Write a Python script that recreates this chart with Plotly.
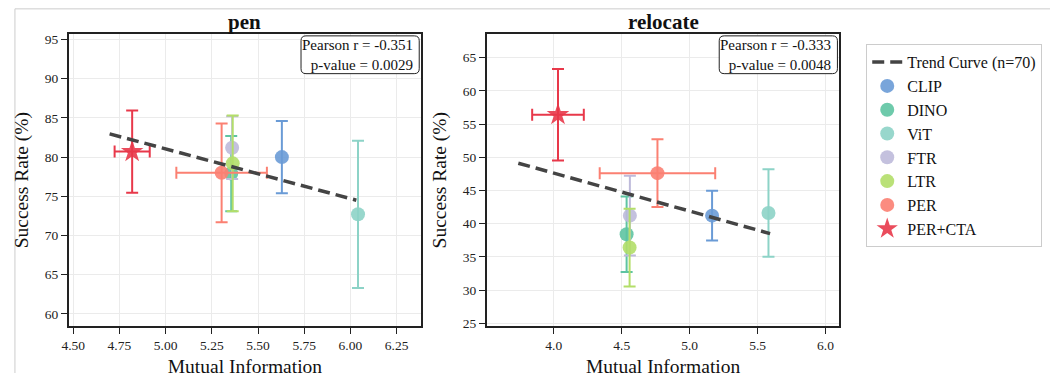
import plotly.graph_objects as go

W, H = 1050, 378
FONT = "Liberation Serif"

methods = ["CLIP", "DINO", "ViT", "FTR", "LTR", "PER", "PER+CTA"]
colors = ["#6a9bd6", "#5ec4a2", "#8dd3c7", "#bebada", "#b3de69", "#fb8072", "#e8384a"]
symbols = ["circle", "circle", "circle", "circle", "circle", "circle", "star"]

# pen
pen_x = [5.629, 5.355, 6.041, 5.360, 5.363, 5.303, 4.819]
pen_y = [80.0, 77.9, 72.7, 81.2, 79.2, 78.0, 80.7]
pen_yerr = [4.6, 4.8, 9.4, 4.0, 6.1, 6.3, 5.25]
pen_xerr = [0, 0, 0, 0, 0, 0.245, 0.095]
pen_trend_x = [4.697, 6.032]
pen_trend_y = [82.97, 74.5]

# relocate
rel_x = [5.165, 4.536, 5.580, 4.560, 4.558, 4.763, 4.031]
rel_y = [41.2, 38.4, 41.6, 41.2, 36.4, 47.6, 56.4]
rel_yerr = [3.75, 5.7, 6.6, 6.0, 5.85, 5.1, 6.9]
rel_xerr = [0, 0, 0, 0, 0, 0.425, 0.19]
rel_trend_x = [3.739, 5.592]
rel_trend_y = [49.1, 38.5]

pen_stats = ["Pearson r = -0.351", "p-value = 0.0029"]
rel_stats = ["Pearson r = -0.333", "p-value = 0.0048"]
titles = ["pen", "relocate"]

pen_xticks = [4.50, 4.75, 5.00, 5.25, 5.50, 5.75, 6.00, 6.25]
pen_yticks = [60, 65, 70, 75, 80, 85, 90, 95]
rel_xticks = [4.0, 4.5, 5.0, 5.5, 6.0]
rel_yticks = [25, 30, 35, 40, 45, 50, 55, 60, 65]

fig = go.Figure()

panels = [
    ("x", "y", pen_x, pen_y, pen_xerr, pen_yerr, pen_trend_x, pen_trend_y, True),
    ("x2", "y2", rel_x, rel_y, rel_xerr, rel_yerr, rel_trend_x, rel_trend_y, False),
]

for xa, ya, xs, ys, xe, ye, tx, ty, show in panels:
    for i, m in enumerate(methods):
        has_x = xe[i] > 0
        fig.add_trace(go.Scatter(
            x=[xs[i]], y=[ys[i]], mode="markers", name=m,
            xaxis=xa, yaxis=ya, legendgroup=m, showlegend=show,
            legendrank=100 + i,
            marker=dict(color=colors[i], symbol=symbols[i],
                        size=17 if symbols[i] == "star" else 14,
                        opacity=0.9, line=dict(width=0)),
            error_y=dict(type="data", array=[ye[i]], color=colors[i], thickness=2, width=6),
            error_x=dict(type="data", array=[xe[i]], color=colors[i], thickness=2, width=6,
                         visible=has_x),
        ))
    fig.add_trace(go.Scatter(
        x=tx, y=ty, mode="lines", name="Trend Curve (n=70)",
        xaxis=xa, yaxis=ya, legendgroup="trend", showlegend=show, legendrank=1,
        line=dict(color="#444444", width=3.5, dash="12px,6px"),
    ))

x1d = [62 / W, 417 / W]
x2d = [483 / W, 838 / W]
yd = [1 - 330 / H, 1 - 33 / H]

axis_common = dict(
    showline=True, linecolor="#222222", linewidth=1.5, mirror=True,
    ticks="outside", ticklen=6, tickwidth=1.3, tickcolor="#222222",
    showgrid=True, gridcolor="#ebebeb", gridwidth=1, zeroline=False,
    tickfont=dict(family=FONT, size=13.5, color="#222222"),
)
xtitle_font = dict(size=19.5, family=FONT, color="#111111")

fig.update_layout(
    width=W, height=H,
    margin=dict(l=0, r=0, t=0, b=0),
    paper_bgcolor="white", plot_bgcolor="white",
    font=dict(family=FONT, color="#111111"),
    xaxis=dict(domain=x1d, range=[4.475, 6.383], tickvals=pen_xticks, tickformat=".2f",
               title=dict(text="Mutual Information", font=xtitle_font, standoff=8),
               anchor="y", **axis_common),
    yaxis=dict(domain=yd, range=[58.46, 95.66], tickvals=pen_yticks,
               title=dict(text="Success Rate (%)", font=xtitle_font, standoff=11),
               anchor="x", **axis_common),
    xaxis2=dict(domain=x2d, range=[3.507, 6.102], tickvals=rel_xticks, tickformat=".1f",
                title=dict(text="Mutual Information", font=xtitle_font, standoff=8),
                anchor="y2", **axis_common),
    yaxis2=dict(domain=yd, range=[24.6, 68.5], tickvals=rel_yticks,
                title=dict(text="Success Rate (%)", font=xtitle_font, standoff=11),
                anchor="x2", **axis_common),
    legend=dict(x=865 / W, y=1 - 43 / H, xanchor="left", yanchor="top",
                bordercolor="#cccccc", borderwidth=1, bgcolor="white",
                font=dict(family=FONT, size=16, color="#111111"),
                tracegroupgap=0),
    showlegend=True,
)


def rounded_box(x0, x1, y0, y1, r=5):
    # pixel coords (top-left origin) -> paper path with rounded corners
    def px(x):
        return x / W

    def py(y):
        return 1 - y / H
    p = (f"M {px(x0 + r)},{py(y0)} L {px(x1 - r)},{py(y0)} Q {px(x1)},{py(y0)} {px(x1)},{py(y0 + r)} "
         f"L {px(x1)},{py(y1 - r)} Q {px(x1)},{py(y1)} {px(x1 - r)},{py(y1)} "
         f"L {px(x0 + r)},{py(y1)} Q {px(x0)},{py(y1)} {px(x0)},{py(y1 - r)} "
         f"L {px(x0)},{py(y0 + r)} Q {px(x0)},{py(y0)} {px(x0 + r)},{py(y0)} Z")
    return p


for (xd, t, stats) in [(x1d, titles[0], pen_stats), (x2d, titles[1], rel_stats)]:
    fig.add_annotation(x=(xd[0] + xd[1]) / 2, y=1 - 20 / H, xref="paper", yref="paper",
                       text="<b>" + t + "</b>", showarrow=False,
                       font=dict(family=FONT, size=21, color="#111111"),
                       xanchor="center", yanchor="middle")
    right_px = xd[1] * W - 2
    box_w, top_px, bot_px = 119, 34.5, 73
    fig.add_shape(type="path", xref="paper", yref="paper",
                  path=rounded_box(right_px - box_w, right_px, top_px, bot_px),
                  fillcolor="white", line=dict(color="#222222", width=1), layer="above")
    fig.add_annotation(x=(right_px - 4) / W, y=1 - (top_px + bot_px) / 2 / H,
                       xref="paper", yref="paper", xanchor="right", yanchor="middle",
                       text="<br>".join(stats), align="right", showarrow=False,
                       font=dict(family=FONT, size=15, color="#111111"))

# light frame around figure
fig.add_shape(type="line", xref="paper", yref="paper", x0=8 / W, x1=1, y0=1 - 7 / H, y1=1 - 7 / H,
              line=dict(color="#cccccc", width=1))
fig.add_shape(type="line", xref="paper", yref="paper", x0=8 / W, x1=8 / W, y0=0, y1=1 - 7 / H,
              line=dict(color="#cccccc", width=1))

fig.write_html("out.html")
